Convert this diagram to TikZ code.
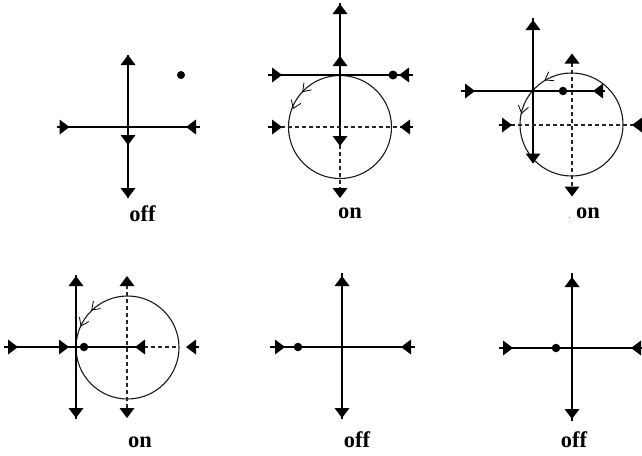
\documentclass[tikz,border=0pt]{standalone}
\usepackage{fontspec}
\setmainfont{Liberation Serif}
\newcommand\triU[2]{\fill (#1-7.5,#2+5) -- (#1,#2-5) -- (#1+7.5,#2+5) -- cycle;}
\newcommand\triD[2]{\fill (#1-7.5,#2-5) -- (#1,#2+5) -- (#1+7.5,#2-5) -- cycle;}
\newcommand\triR[2]{\fill (#1-5,#2-7.5) -- (#1+5,#2) -- (#1-5,#2+7.5) -- cycle;}
\newcommand\triL[2]{\fill (#1+5,#2-7.5) -- (#1-5,#2) -- (#1+5,#2+7.5) -- cycle;}
\newcommand\vtip[3]{\draw[tipline] (#1,#2) ++(#3+35:9) -- (#1,#2) -- ++(#3-35:9);}
\tikzset{
  solid line/.style={line width=1.2pt,black},
  heavy line/.style={line width=1.7pt,black},
  dash line/.style={line width=1.1pt,black!85,dash pattern=on 4pt off 3pt},
  orbit/.style={line width=1.1pt,black!90},
  tipline/.style={line width=0.8pt,black},
  state/.style={font=\fontsize{22.5}{22.5}\selectfont\bfseries,inner sep=0pt,anchor=base},
  dot/.style={circle,fill=black,inner sep=0pt,minimum size=#1}
}
\begin{document}
\begin{tikzpicture}[x=1pt,y=-1pt]
\useasboundingbox (0,0) rectangle (642,455);
% panel 1
\draw[solid line] (128,55) -- (128,198);
\draw[heavy line] (57,127) -- (200,127);
\triU{128}{60}\triD{128}{140}\triD{128}{193}\triR{64.5}{127}\triL{191}{127}
\node[dot=8pt] (d1) at (181,75) {};
\node[state] (l1) at (142.5,221) {off};
% panel 2
\draw[orbit] (340,127) circle (51.5);
\draw[solid line] (340,3) -- (340,141);
\draw[dash line] (340,145) -- (340,189);
\draw[heavy line] (268,75) -- (413,75);
\draw[dash line] (281,127) -- (401,127);
\draw[solid line] (268,127) -- (276,127) (406,127) -- (413,127);
\triU{340}{9}\triU{340}{61}\triD{340}{141}\triD{340}{193}
\triR{277}{75}\triL{404}{75}\triR{277}{127}\triL{405}{127}
\node[dot=9pt] (d2) at (393,75) {};
\vtip{302.7}{91.7}{313}\vtip{293.3}{108.3}{292}
\node[state] (l2) at (350,218) {on};
% panel 3
\draw[orbit] (571.5,124.5) circle (51.5);
\draw[solid line] (533,18) -- (533,163);
\draw[solid line] (461,91) -- (605,91);
\draw[dash line] (572,63) -- (572,187);
\draw[dash line] (511,125) -- (633,125);
\draw[solid line] (499,125) -- (505,125) (638,125) -- (642,125);
\triU{533}{25}\triD{533}{158.5}\triU{572}{58.5}\triD{572}{191.5}
\triR{470}{91}\triL{598}{91}\triR{507}{125}\triL{637}{125}
\node[dot=8.5pt] (d3) at (563,91) {};
\vtip{545}{80}{329}\vtip{521.7}{113.3}{283}
\fill[black!50] (569.5,217.5) circle (0.6);
\node[state] (l3) at (588,218) {on};
% panel 4
\draw[orbit] (127.5,347.5) circle (51.5);
\draw[heavy line] (76,275) -- (76,419);
\draw[solid line] (4,347) -- (137,347);
\draw[dash line] (144,347) -- (178,347);
\draw[solid line] (190,347) -- (199,347);
\draw[dash line] (127,285) -- (127,409);
\triU{76}{281}\triD{76}{413}\triU{127}{281}\triD{127}{413}
\triR{13}{347}\triR{64}{347}\triL{140}{347}\triL{191}{347}
\node[dot=8.5pt] (d4) at (84,347) {};
\vtip{91.7}{310}{316}\vtip{81}{326}{295}
\node[state] (l4) at (140,447) {on};
% panel 5
\draw[solid line] (342,273) -- (342,419);
\draw[solid line] (270,347) -- (415,347);
\triU{342}{281}\triD{342}{413}\triR{280}{347}\triL{406}{347}
\node[dot=8.5pt] (d5) at (298,347) {};
\node[state] (l5) at (357,447) {off};
% panel 6
\draw[solid line] (572,273) -- (572,421);
\draw[heavy line] (499,348) -- (642,348);
\triU{572}{282}\triD{572}{414}\triR{508}{348}\triL{636}{348}
\node[dot=8.5pt] (d6) at (556,348) {};
\node[state] (l6) at (574,447) {off};
\end{tikzpicture}
\end{document}
